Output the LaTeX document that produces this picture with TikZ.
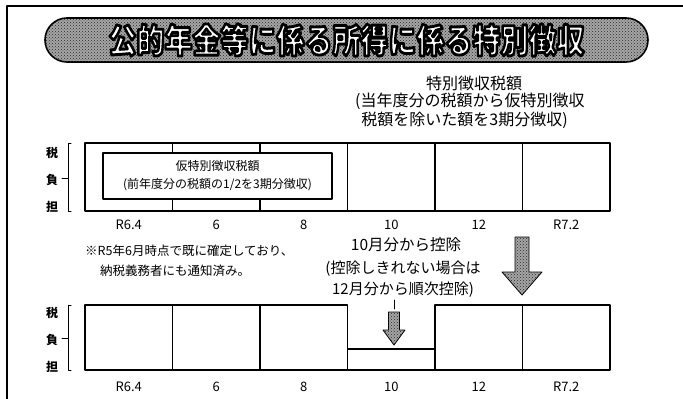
\documentclass[tikz,border=0pt]{standalone}
\usepackage{fontspec}
\setmainfont{Noto Sans CJK JP}
\usetikzlibrary{patterns}
\newcommand{\outlined}[1]{{\color{white}\special{pdf:literal direct 0 G 2 Tr 2.4 w}#1\special{pdf:literal direct 0 Tr}}}

\begin{document}
\begin{tikzpicture}[x=1pt, y=-1pt, line cap=round, line join=round, font=\fontsize{13}{15}\selectfont]
	\tikzset{cell/.style={draw, line width=1.2pt, minimum width=87.5pt, inner sep=0pt},
		ticklab/.style={font=\fontsize{13}{15}\selectfont},
		taxlab/.style={font=\fontsize{12}{14}\selectfont\bfseries},
		dotfill/.style={fill=gray!70, postaction={pattern=crosshatch dots, pattern color=gray!30!black}},
		blockarrow/.style={draw, line width=0.8pt, dotfill}}
	\useasboundingbox (0,0) rectangle (683,399);
	% frame
	\draw[line width=1.5pt] (7,399) -- (7,6) -- (683,6);
	% title
	\draw[line width=1.6pt, rounded corners=22pt, dotfill] (45,18) rectangle (648,62);
	\node (title) at (346.5,40) {\scalebox{1}[1.2]{\fontsize{28}{30}\selectfont\bfseries\outlined{公的年金等に係る所得に係る特別徴収}}};
	\node (spec) at (474,83) {\fontsize{16}{18}\selectfont 特別徴収税額};
	\node[anchor=west, align=left, inner sep=0pt, font=\fontsize{16}{18.5}\selectfont] (specnote) at (355,111) {(当年度分の税額から仮特別徴収\\\ \,税額を除いた額を3期分徴収)};
	% upper row
	\foreach \lab [count=\i] in {R6.4,6,8,10,12,R7.2} {
		\node[cell, minimum height=68pt] (t\i) at ({85+87.5*(\i-0.5)},177) {};
		\node[ticklab] (tl\i) at ({85+87.5*(\i-0.5)},225) {\lab};
	}
	\node[draw, line width=1.2pt, fill=white, minimum width=229pt, minimum height=46pt, align=center,
		font=\fontsize{12}{18}\selectfont] (prev) at (217.5,176) {仮特別徴収税額\\(前年度分の税額の1/2を3期分徴収)};
	\foreach \y/\c [count=\i] in {153/税,180/負,207/担} {
		\node[taxlab] (ta\i) at (52,\y) {\c};
		\node[taxlab] (ba\i) at (52,\y+160) {\c};
	}
	\draw[line width=1pt] (71,143) -- (68,143) -- (68,211) -- (71,211) (68,178) -- (62,178);
	\draw[line width=1pt] (71,305) -- (68,305) -- (68,370) -- (71,370) (68,338) -- (62,338);
	% notes
	\node[anchor=west, inner sep=0pt, font=\fontsize{12.5}{15}\selectfont] (note1) at (85,251) {※R5年6月時点で既に確定しており、};
	\node[anchor=west, inner sep=0pt, font=\fontsize{12.5}{15}\selectfont] (note2) at (100,271) {納税義務者にも通知済み。};
	\node (ded1) at (406,245) {\fontsize{15.5}{18}\selectfont 10月分から控除};
	\node[align=center, font=\fontsize{15}{21}\selectfont] (ded2) at (403,279) {(控除しきれない場合は\\12月分から順次控除)};
	% arrows
	\draw[blockarrow] (515,237) -- (529,237) -- (529,272) -- (542,272) -- (522,295) -- (502,272) -- (515,272) -- cycle;
	\draw[line width=0.8pt] (394,300) -- (394,309);
	\draw[blockarrow] (388.5,312) -- (399.5,312) -- (399.5,330) -- (405,330) -- (394,345) -- (383,330) -- (388.5,330) -- cycle;
	% lower row
	\foreach \lab [count=\i] in {R6.4,6,8,10,12,R7.2} {
		\node[ticklab] (bl\i) at ({85+87.5*(\i-0.5)},387) {\lab};
	}
	\foreach \i in {1,2,3,5,6} {
		\node[cell, minimum height=65pt] (b\i) at ({85+87.5*(\i-0.5)},337.5) {};
	}
	\node[cell, minimum height=21pt] (b4) at (391.25,359.5) {};
\end{tikzpicture}
\end{document}
